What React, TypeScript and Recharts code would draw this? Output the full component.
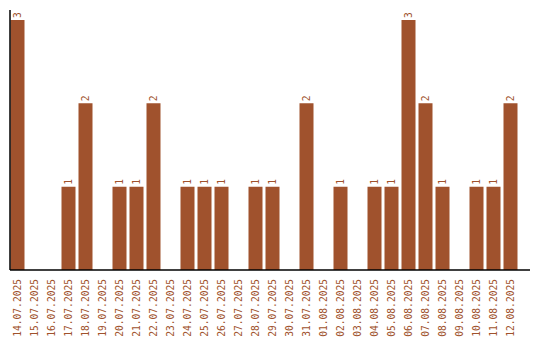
import { BarChart, Bar, XAxis, YAxis, LabelList } from 'recharts';

const dates = [
  '14.07.2025', '15.07.2025', '16.07.2025', '17.07.2025', '18.07.2025', '19.07.2025',
  '20.07.2025', '21.07.2025', '22.07.2025', '23.07.2025', '24.07.2025', '25.07.2025',
  '26.07.2025', '27.07.2025', '28.07.2025', '29.07.2025', '30.07.2025', '31.07.2025',
  '01.08.2025', '02.08.2025', '03.08.2025', '04.08.2025', '05.08.2025', '06.08.2025',
  '07.08.2025', '08.08.2025', '09.08.2025', '10.08.2025', '11.08.2025', '12.08.2025',
];
const counts = [3, 0, 0, 1, 2, 0, 1, 1, 2, 0, 1, 1, 1, 0, 1, 1, 0, 2, 0, 1, 0, 1, 1, 3, 2, 1, 0, 1, 1, 2];

const data = dates.map((d, i) => ({ date: d, count: counts[i] }));

const BROWN = '#A0522D';
const FONT = '"DejaVu Sans Mono", monospace';

const DateTick = ({ x, y, payload }) => (
  <text
    x={0}
    y={0}
    transform={`translate(${x + 3.5},${y + 1}) rotate(-90)`}
    textAnchor="end"
    fontFamily={FONT}
    fontSize={9.6}
    fill={BROWN}
  >
    {payload.value}
  </text>
);

const ValueLabel = ({ x, y, width, value }) => {
  if (!value) return null;
  const cx = x + width / 2 + 3.5;
  return (
    <text
      x={0}
      y={0}
      transform={`translate(${cx},${y - 2}) rotate(-90)`}
      textAnchor="start"
      fontFamily={FONT}
      fontSize={9.6}
      fill={BROWN}
    >
      {value}
    </text>
  );
};

export default function App() {
  return (
    <div style={{ position: 'absolute', left: 0, top: 0, width: 540, height: 340 }}>
      <BarChart
        width={540}
        height={340}
        data={data}
        margin={{ top: 10, right: 10, left: 0, bottom: 0 }}
        barSize={14}
      >
        <XAxis
          dataKey="date"
          interval={0}
          height={70}
          tickLine={false}
          padding={{ left: -1.5, right: 11.5 }}
          axisLine={{ stroke: '#000', strokeWidth: 1.5 }}
          tick={<DateTick />}
        />
        <YAxis
          width={10}
          domain={[0, 3.12]}
          tick={false}
          tickLine={false}
          axisLine={{ stroke: '#000', strokeWidth: 1.5 }}
        />
        <Bar dataKey="count" fill={BROWN} isAnimationActive={false}>
          <LabelList dataKey="count" content={<ValueLabel />} />
        </Bar>
      </BarChart>
    </div>
  );
}
